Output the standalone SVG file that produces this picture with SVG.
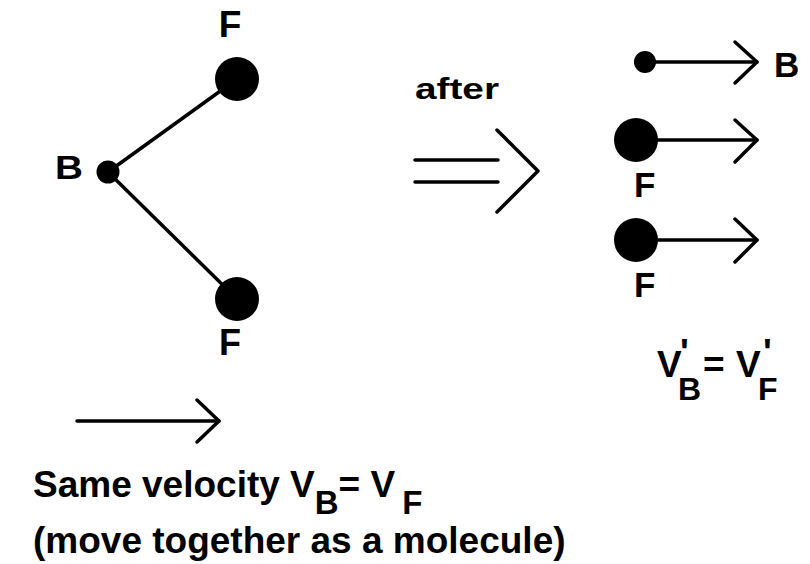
<svg xmlns="http://www.w3.org/2000/svg" width="810" height="564" viewBox="0 0 810 564">
<style>
.t{font-family:"Liberation Sans",Arial,sans-serif;font-weight:bold;fill:#000}
.ln{stroke:#000;stroke-width:3.5;fill:none;stroke-linecap:round;stroke-linejoin:round}
.dot{fill:#000}
</style>
<rect width="810" height="564" fill="#fff"/>
<g id="connectors">
<line class="ln" x1="108" y1="172" x2="237" y2="79"/>
<line class="ln" x1="108" y1="172" x2="237" y2="299"/>
<line class="ln" x1="415" y1="160" x2="498" y2="160"/>
<line class="ln" x1="415" y1="182" x2="498" y2="182"/>
<polyline class="ln" points="497,130 538,171 497,212"/>
<line class="ln" x1="645" y1="62" x2="757" y2="62"/>
<polyline class="ln" points="735,42 757,62 735,83"/>
<line class="ln" x1="636" y1="140" x2="757" y2="140"/>
<polyline class="ln" points="735,120 757,140 735,162"/>
<line class="ln" x1="636" y1="240" x2="757" y2="240"/>
<polyline class="ln" points="735,219 757,240 735,262"/>
<line class="ln" x1="77" y1="421" x2="219" y2="421"/>
<polyline class="ln" points="197,400 219,421 197,442"/>
</g>
<g id="B-left"><circle class="dot" cx="108" cy="172" r="11.5"/><text class="t" x="55" y="179" font-size="33" textLength="28" lengthAdjust="spacingAndGlyphs">B</text></g>
<g id="F-top"><circle class="dot" cx="237" cy="79" r="22"/><text class="t" x="230" y="37" font-size="37" text-anchor="middle">F</text></g>
<g id="F-bottom"><circle class="dot" cx="237" cy="299" r="22"/><text class="t" x="230" y="355" font-size="36" text-anchor="middle">F</text></g>
<g id="after"><text class="t" x="415" y="99" font-size="30" textLength="84" lengthAdjust="spacingAndGlyphs">after</text></g>
<g id="B-right"><circle class="dot" cx="645" cy="62" r="11"/><text class="t" x="774" y="77" font-size="35">B</text></g>
<g id="F-right-1"><circle class="dot" cx="636" cy="140" r="22"/><text class="t" x="634" y="197" font-size="35">F</text></g>
<g id="F-right-2"><circle class="dot" cx="636" cy="240" r="22"/><text class="t" x="634" y="297" font-size="35">F</text></g>
<g id="eq-after">
<text class="t" font-size="37" y="377"><tspan x="657">V</tspan><tspan x="680" y="365">'</tspan><tspan x="678" y="400" font-size="32">B</tspan><tspan x="703" y="377">=</tspan><tspan x="736" y="377">V</tspan><tspan x="763" y="365">'</tspan><tspan x="758" y="400" font-size="32">F</tspan></text>
</g>
<g id="caption">
<text class="t" x="33" y="497" font-size="37">Same velocity V<tspan dy="17" font-size="33">B</tspan><tspan dy="-17">= V</tspan><tspan dx="7" dy="17" font-size="33">F</tspan></text>
<text class="t" x="33" y="553" font-size="37">(move together as a molecule)</text>
</g>
</svg>
